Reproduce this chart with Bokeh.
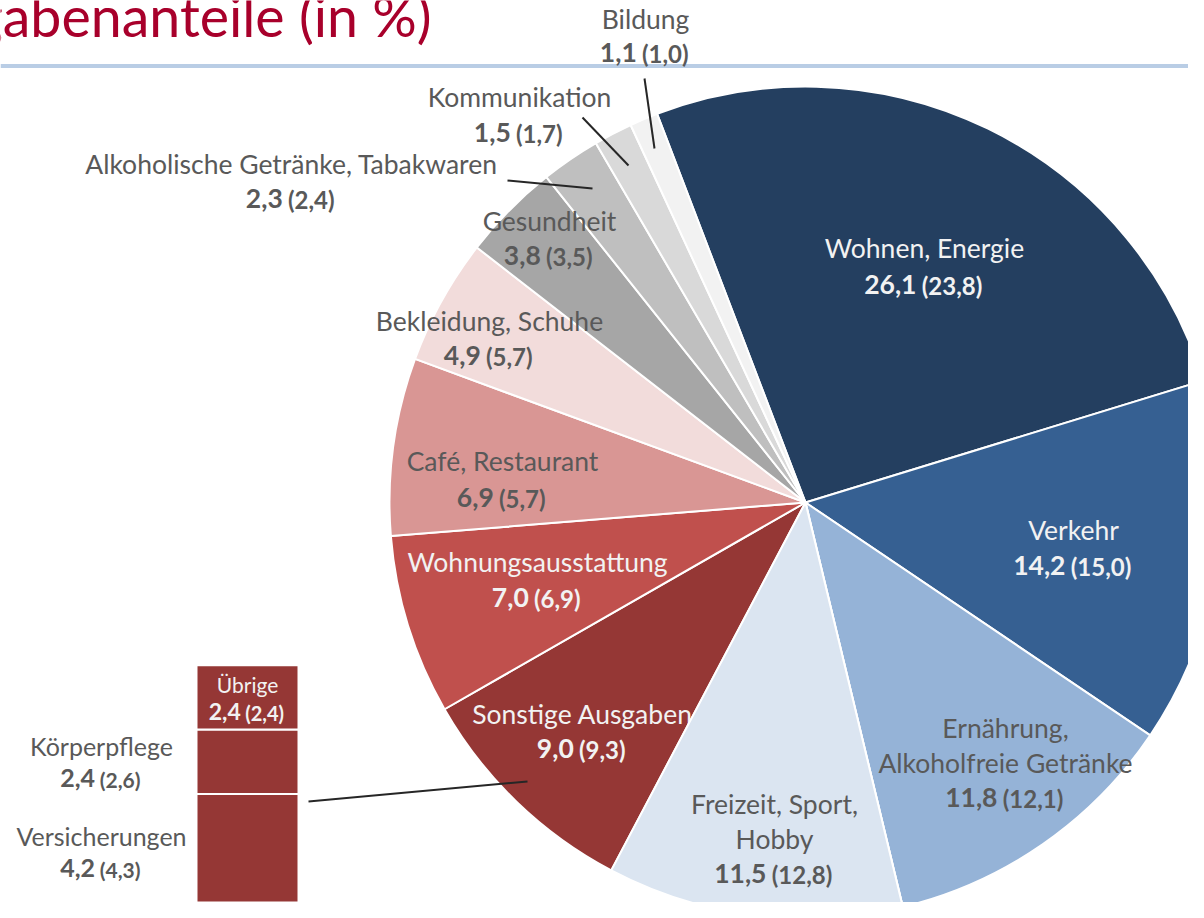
import numpy as np
from bokeh.plotting import figure
from bokeh.models import Range1d, ColumnDataSource, CDSView, IndexFilter
from bokeh.core.properties import value
from bokeh.embed import file_html
from bokeh.resources import INLINE

# ---------------- data ----------------
categories = ["Wohnen, Energie", "Verkehr", "Ernährung,\nAlkoholfreie Getränke",
              "Freizeit, Sport,\nHobby", "Sonstige Ausgaben", "Wohnungsausstattung",
              "Café, Restaurant", "Bekleidung, Schuhe", "Gesundheit",
              "Alkoholische Getränke, Tabakwaren", "Kommunikation", "Bildung"]
shares = [26.1, 14.2, 11.8, 11.5, 9.0, 7.0, 6.9, 4.9, 3.8, 2.3, 1.5, 1.1]
shares_prev = [23.8, 15.0, 12.1, 12.8, 9.3, 6.9, 5.7, 5.7, 3.5, 2.4, 1.7, 1.0]

sub_categories = ["Versicherungen", "Körperpflege", "Übrige"]
sub_shares = [4.2, 2.4, 2.4]
sub_shares_prev = [4.3, 2.6, 2.4]

title_text = "Ausgabenanteile (in %)"

# ---------------- styles / layout ----------------
FONT = "Lato"
slice_colors = ["#243f60", "#366092", "#95b3d7", "#dbe5f1", "#953735", "#c0504d",
                "#d99694", "#f2dcdb", "#a6a6a6", "#bfbfbf", "#d9d9d9", "#f2f2f2"]
DARK = "#595959"
LIGHT = "#f2f2f2"
label_colors = [LIGHT, LIGHT, DARK, DARK, LIGHT, LIGHT, DARK, DARK, DARK, DARK, DARK, DARK]
# (center x, baselines of name lines (pixel y), baseline of value line)
label_pos = [
    (924, [257], 294),
    (1073, [539], 575),
    (1005, [737, 772], 807),
    (774, [813, 848], 883),
    (582, [723], 758),
    (537, [571], 607),
    (502, [470], 507),
    (489, [330], 365),
    (549, [230], 265),
    (291, [173], 208),
    (519, [106], 142),
    (645, [28], 62),
]
NAME_SIZE, MAIN_SIZE, PAR_SIZE = 26.5, 26.5, 24
CX, CY, R = 805, 502, 416
START_DEG = 110.9
MID = 0.37  # middle of text above baseline, in em

BAR_X, BAR_W, BAR_BOTTOM, BAR_K = 247, 102, 906, 26.8
sub_label = [  # (cx, name baseline, value baseline, color, name size, main size, paren size)
    (101, 845, 877, DARK, 25, 25, 21),
    (101, 755, 787, DARK, 25, 25, 21),
    (247, 692, 720, LIGHT, 21, 23, 20),
]

W, H = 1188, 902
p = figure(width=W, height=H, output_backend="svg", toolbar_location=None,
           x_range=Range1d(0, W), y_range=Range1d(-H, 0),
           x_axis_type=None, y_axis_type=None, min_border=0,
           outline_line_color=None, background_fill_color="white")
p.grid.visible = False


def fmt(v):
    return f"{v:.1f}".replace(".", ",")


EM = {"d": 0.58, ",": 0.25, "(": 0.32, ")": 0.32, " ": 0.2}


def twidth(s, size):
    return sum(EM["d"] if c.isdigit() else EM.get(c, 0.5) for c in s) * size


def txt(x, base, s, color, size, align, bold=False):
    p.text(x=[x], y=[-(base - MID * size)], text=[s], text_font=value(FONT),
           text_font_style="bold" if bold else "normal", text_font_size=f"{size}px",
           text_color=color, text_align=align, text_baseline="middle")


def value_line(cx, base, v, vp, color, s_main, s_par):
    main = fmt(v)
    par = "(" + fmt(vp) + ")"
    wm = twidth(main, s_main)
    ws = EM[" "] * s_par
    wp = twidth(par, s_par)
    left = cx - (wm + ws + wp) / 2
    txt(left, base, main, color, s_main, "left", True)
    txt(left + wm + ws, base, par, color, s_par, "left", True)


# title and rule
txt(431, 36, title_text, "#a8002b", 55.5, "right")
p.segment(x0=[0], y0=[-65.5], x1=[1210], y1=[-65.5], line_color="#b9cde5", line_width=4)

# pie
deg_per = 360.0 / sum(shares)
cum = np.concatenate([[0.0], np.cumsum(shares)])
src = ColumnDataSource(dict(
    start=np.radians(START_DEG - cum[:-1] * deg_per),
    end=np.radians(START_DEG - cum[1:] * deg_per),
    color=slice_colors,
))
p.wedge(x=CX, y=-CY, radius=R, start_angle="start", end_angle="end",
        direction="clock", fill_color="color", line_color="white", line_width=2, source=src)

# connector lines
p.segment(x0=[507, 582, 644, 308], y0=[-180, -117, -78, -801],
          x1=[592, 628, 654, 527], y1=[-188, -165, -148, -781],
          line_color="#262626", line_width=2)


def pie_label(i):
    cx, names, vb = label_pos[i]
    for ln, nb in zip(categories[i].split("\n"), names):
        txt(cx, nb, ln, label_colors[i], NAME_SIZE, "center")
    value_line(cx, vb, shares[i], shares_prev[i], label_colors[i], MAIN_SIZE, PAR_SIZE)


for i in range(len(categories)):
    if i != 3:
        pie_label(i)

# Freizeit slice drawn over the end of the "Sonstige Ausgaben" label
p.wedge(x=CX, y=-CY, radius=R, start_angle="start", end_angle="end",
        direction="clock", fill_color="color", line_color="white", line_width=2, source=src,
        view=CDSView(filter=IndexFilter([3])))
pie_label(3)

# stacked bar for "Sonstige Ausgaben"
scum = np.concatenate([[0.0], np.cumsum(sub_shares)])
p.vbar(x=BAR_X, width=BAR_W, bottom=-BAR_BOTTOM + scum[:-1] * BAR_K,
       top=-BAR_BOTTOM + scum[1:] * BAR_K, fill_color="#953735", line_color="white",
       line_width=2)
for j, cat in enumerate(sub_categories):
    cx, nb, vb, col, sn, sm, sp = sub_label[j]
    txt(cx, nb, cat, col, sn, "center")
    value_line(cx, vb, sub_shares[j], sub_shares_prev[j], col, sm, sp)

open("out.html", "w").write(file_html(p, INLINE))
